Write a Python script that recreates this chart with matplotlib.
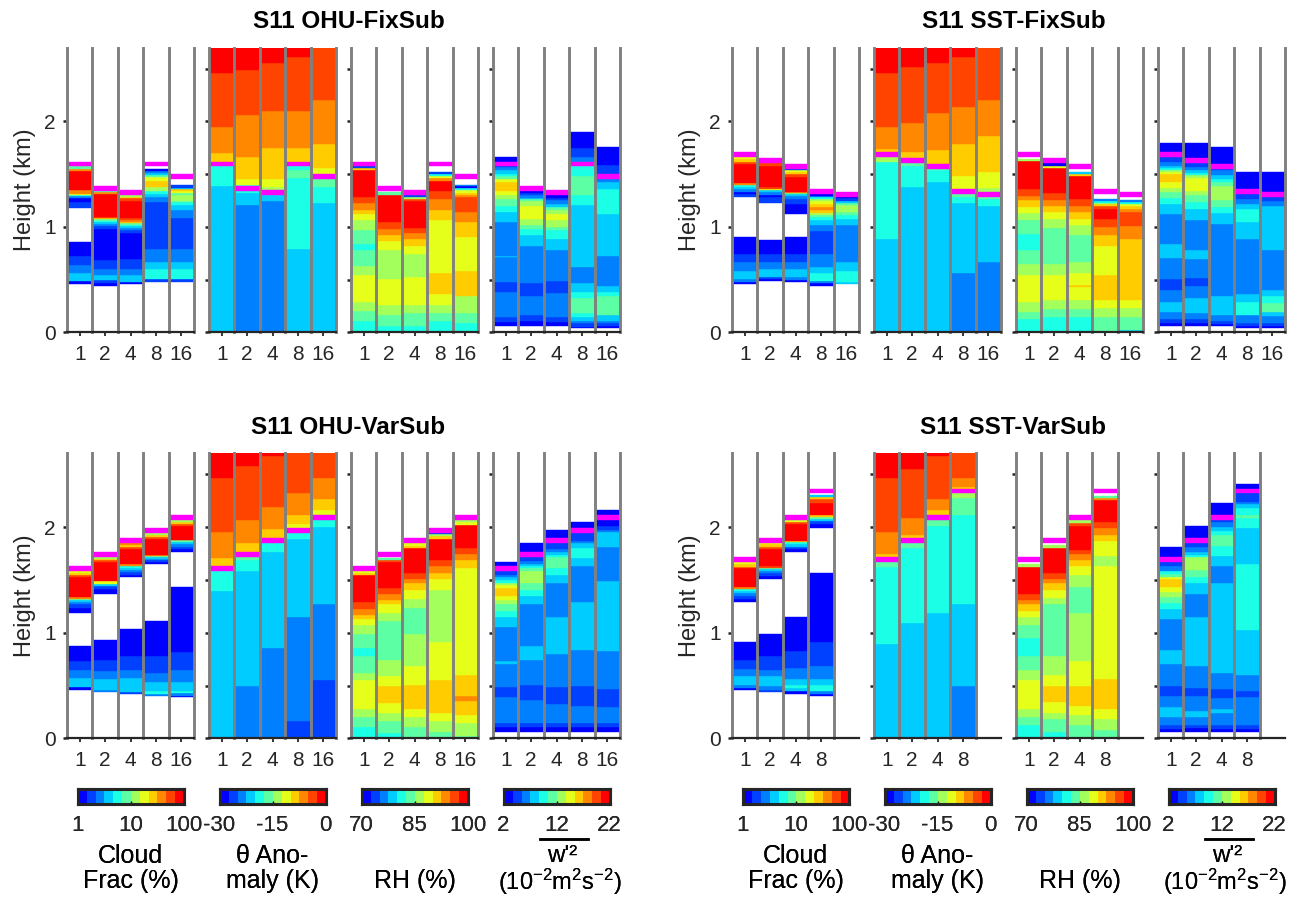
import numpy as np
import matplotlib
matplotlib.use('Agg')
import matplotlib.pyplot as plt
from matplotlib.colors import ListedColormap, BoundaryNorm
from matplotlib.lines import Line2D

plt.rcParams['font.family'] = ['Liberation Sans', 'DejaVu Sans']
plt.rcParams['mathtext.fontset'] = 'custom'
plt.rcParams['mathtext.rm'] = 'Liberation Sans'
plt.rcParams['mathtext.it'] = 'Liberation Sans'
plt.rcParams['mathtext.bf'] = 'Liberation Sans:bold'

# ---------------- data ----------------
categories = ['1', '2', '4', '8', '16']
titles = ['S11 OHU-FixSub', 'S11 SST-FixSub', 'S11 OHU-VarSub', 'S11 SST-VarSub']
cbar_ticklabels = {'cf': ['1', '10', '100'], 'th': ['-30', '-15', '0'],
                   'rh': ['70', '85', '100'], 'w2': ['2', '12', '22']}
jet12 = ['#0000FF', '#0040FF', '#0080FF', '#00CCFF', '#1AFFE6', '#5CFFA3',
         '#A3FF5C', '#E6FF1A', '#FFCC00', '#FF8800', '#FF4400', '#FF0000']

# inversion heights (km), one per column
zi_ohu_fix = [1.62, 1.39, 1.35, 1.62, 1.50]
zi_sst_fix = [1.707, 1.65, 1.593, 1.356, 1.328]
zi_ohu_var = [1.632, 1.765, 1.898, 1.994, 2.117]
zi_sst_var = [1.717, 1.898, 2.117, 2.365]

# each column: list of (segment top height km, value); None = no data (white)
cf_ohu_fix = [
    [(0.46, None), (0.49, 1.2), (0.56, 3.8), (0.64, 2.6), (0.72, 1.8), (0.86, 1.2), (1.18, None), (1.24, 1.8), (1.27, 1.2), (1.29, 2.6), (1.30, 5.6), (1.315, 18), (1.35, 38), (1.53, 83), (1.55, 38), (1.58, 8.3)],
    [(0.44, None), (0.465, 1.2), (0.495, 1.8), (0.54, 3.8), (0.60, 2.6), (0.685, 1.8), (0.98, 1.2), (1.01, 1.8), (1.03, 2.6), (1.045, 3.8), (1.06, 5.6), (1.075, 8.3), (1.085, 26), (1.095, 56), (1.315, 83), (1.33, 38), (1.345, 8.3)],
    [(0.457, None), (0.48, 1.2), (0.54, 3.8), (0.60, 2.6), (0.70, 1.8), (0.945, 1.2), (0.975, 1.8), (0.99, 2.6), (1.005, 3.8), (1.02, 5.6), (1.035, 8.3), (1.05, 26), (1.065, 38), (1.08, 56), (1.25, 83), (1.27, 56), (1.285, 26), (1.30, 12)],
    [(0.48, None), (0.51, 1.8), (0.60, 5.6), (0.67, 3.8), (0.795, 2.6), (1.24, 1.8), (1.28, 2.6), (1.315, 3.8), (1.345, 5.6), (1.38, 12), (1.44, 26), (1.47, 18), (1.49, 8.3), (1.51, 3.8), (1.53, 2.6), (1.55, 1.2), (1.575, None)],
    [(0.48, None), (0.51, 1.8), (0.60, 5.6), (0.67, 3.8), (0.795, 2.6), (1.08, 1.8), (1.16, 2.6), (1.205, 3.8), (1.235, 5.6), (1.25, 8.3), (1.30, 12), (1.32, 8.3), (1.34, 18), (1.36, 26), (1.37, 3.8), (1.40, 1.8), (1.45, None)],
]
th_ohu_fix = [
    [(1.385, -21), (1.62, -19), (1.70, -9), (1.946, -6), (2.457, -4), (2.75, -1)],
    [(1.205, -24), (1.32, -21), (1.394, -19), (1.457, -11), (1.662, -9), (2.057, -6), (2.49, -4), (2.75, -1)],
    [(1.243, -24), (1.30, -21), (1.35, -19), (1.375, -14), (1.457, -11), (1.748, -9), (2.095, -6), (2.558, -4), (2.75, -1)],
    [(0.795, -21), (1.464, -19), (1.536, -16), (1.62, -19), (1.748, -9), (2.095, -6), (2.615, -4), (2.75, -1)],
    [(1.227, -21), (1.379, -19), (1.50, -16), (1.558, -11), (1.782, -9), (2.205, -6), (2.75, -4)],
]
rh_ohu_fix = [
    [(0.107, 81), (0.202, 84), (0.29, 86), (0.543, 89), (0.631, 86), (0.779, 84), (0.842, 81), (0.975, 84), (1.063, 86), (1.12, 89), (1.158, 91), (1.224, 94), (1.281, 96), (1.536, 99), (1.555, 91), (1.575, 74)],
    [(0.06, 81), (0.164, 84), (0.259, 86), (0.505, 89), (0.779, 86), (0.868, 89), (0.924, 91), (0.981, 94), (1.047, 96), (1.306, 99), (1.33, 84), (1.35, None)],
    [(0.06, 81), (0.18, 84), (0.259, 86), (0.524, 89), (0.741, 86), (0.817, 89), (0.883, 91), (0.94, 94), (0.994, 96), (1.243, 99), (1.262, 96), (1.284, 86), (1.30, 74)],
    [(0.107, 81), (0.18, 84), (0.259, 86), (0.363, 89), (0.558, 91), (1.063, 89), (1.158, 91), (1.262, 94), (1.337, 96), (1.44, 99), (1.46, 94), (1.48, 89), (1.50, 81), (1.525, 74), (1.575, None)],
    [(0.09, 81), (0.18, 84), (0.347, 86), (0.584, 91), (0.905, 89), (1.047, 91), (1.139, 94), (1.284, 96), (1.306, 94), (1.325, 91), (1.347, 89), (1.372, 81), (1.39, 71), (1.40, 76), (1.45, None)],
]
w2_ohu_fix = [
    [(0.06, None), (0.10, 2.8), (0.148, 4.5), (0.382, 6.2), (0.479, 4.5), (0.71, 6.2), (0.726, 7.8), (1.047, 6.2), (1.139, 7.8), (1.196, 9.5), (1.262, 11.2), (1.30, 12.8), (1.34, 14.5), (1.426, 16.2), (1.457, 14.5), (1.482, 11.2), (1.505, 9.5), (1.536, 7.8), (1.568, 6.2), (1.62, 4.5), (1.662, 2.8)],
    [(0.06, None), (0.107, 2.8), (0.164, 4.5), (0.347, 6.2), (0.47, 4.5), (0.817, 6.2), (0.921, 7.8), (0.978, 9.5), (1.016, 11.2), (1.079, 12.8), (1.196, 14.5), (1.243, 12.8), (1.262, 11.2), (1.278, 7.8), (1.30, 6.2), (1.322, 4.5), (1.35, 2.8)],
    [(0.06, None), (0.10, 2.8), (0.148, 4.5), (0.369, 6.2), (0.486, 4.5), (0.779, 6.2), (0.883, 7.8), (0.968, 9.5), (1.0, 11.2), (1.063, 12.8), (1.126, 14.5), (1.164, 12.8), (1.19, 11.2), (1.215, 7.8), (1.253, 6.2), (1.27, 4.5), (1.30, 2.8)],
    [(0.038, None), (0.054, 2.8), (0.085, 4.5), (0.11, 6.2), (0.148, 7.8), (0.18, 9.5), (0.328, 11.2), (0.382, 9.5), (0.47, 7.8), (0.621, 6.2), (1.205, 7.8), (1.30, 9.5), (1.479, 11.2), (1.62, 9.5), (1.662, 6.2), (1.748, 4.5), (1.899, 2.8)],
    [(0.038, None), (0.06, 2.8), (0.085, 4.5), (0.11, 6.2), (0.164, 7.8), (0.344, 11.2), (0.382, 9.5), (0.438, 7.8), (0.722, 6.2), (1.12, 7.8), (1.356, 9.5), (1.426, 7.8), (1.50, 6.2), (1.584, 4.5), (1.757, 2.8)],
]

cf_sst_fix = [
    [(0.46, None), (0.48, 1.2), (0.505, 2.6), (0.584, 3.8), (0.669, 2.6), (0.741, 1.8), (0.905, 1.2), (1.284, None), (1.31, 1.8), (1.33, 1.2), (1.36, 2.6), (1.38, 3.8), (1.40, 5.6), (1.416, 38), (1.60, 83), (1.62, 56), (1.64, 26), (1.665, 18)],
    [(0.486, None), (0.505, 1.2), (0.527, 1.8), (0.596, 3.8), (0.669, 2.6), (0.741, 1.8), (0.88, 1.2), (1.227, None), (1.284, 1.8), (1.305, 1.2), (1.33, 2.6), (1.35, 3.8), (1.36, 18), (1.38, 56), (1.575, 83), (1.605, 56)],
    [(0.48, None), (0.50, 1.2), (0.527, 2.6), (0.596, 3.8), (0.669, 2.6), (0.741, 1.8), (0.905, 1.2), (1.12, None), (1.22, 1.2), (1.268, 1.8), (1.29, 2.6), (1.31, 3.8), (1.32, 8.3), (1.33, 38), (1.473, 83), (1.50, 56), (1.52, 26), (1.535, 18), (1.55, 1.8)],
    [(0.442, None), (0.465, 1.2), (0.486, 2.6), (0.565, 5.6), (0.621, 3.8), (0.741, 2.6), (0.962, 1.8), (1.016, 2.6), (1.069, 3.8), (1.09, 5.6), (1.11, 8.3), (1.13, 12), (1.16, 26), (1.19, 38), (1.215, 26), (1.25, 18), (1.26, 12), (1.28, 5.6), (1.295, 2.6), (1.31, 1.2)],
    [(0.46, None), (0.48, 3.8), (0.584, 5.6), (0.669, 3.8), (1.016, 2.6), (1.079, 3.8), (1.11, 5.6), (1.142, 8.3), (1.205, 12), (1.23, 8.3), (1.25, 3.8), (1.27, 1.8), (1.285, 1.2)],
]
th_sst_fix = [
    [(0.883, -21), (1.615, -19), (1.707, -14), (1.735, -9), (1.946, -6), (2.457, -4), (2.75, -1)],
    [(1.375, -21), (1.577, -19), (1.65, -16), (1.71, -9), (1.984, -6), (2.52, -4), (2.75, -1)],
    [(1.426, -21), (1.536, -19), (1.593, -16), (1.726, -9), (2.079, -6), (2.558, -4), (2.75, -1)],
    [(0.565, -24), (1.227, -21), (1.284, -19), (1.356, -16), (1.483, -11), (1.782, -9), (2.142, -6), (2.615, -4), (2.75, -1)],
    [(0.669, -24), (1.199, -21), (1.262, -19), (1.328, -16), (1.366, -14), (1.517, -11), (1.861, -9), (2.205, -6), (2.75, -4)],
]
rh_sst_fix = [
    [(0.126, 81), (0.196, 84), (0.29, 86), (0.543, 89), (0.647, 86), (0.779, 84), (0.937, 81), (1.063, 84), (1.136, 86), (1.19, 89), (1.259, 91), (1.297, 94), (1.356, 96), (1.621, 99), (1.64, 86), (1.66, None)],
    [(0.148, 81), (0.22, 84), (0.306, 86), (0.543, 89), (0.647, 86), (0.994, 84), (1.079, 86), (1.139, 89), (1.196, 91), (1.259, 94), (1.322, 96), (1.558, 99), (1.575, 89), (1.605, 71)],
    [(0.148, 81), (0.22, 84), (0.306, 86), (0.426, 89), (0.448, 91), (0.558, 89), (0.669, 86), (0.921, 84), (1.016, 86), (1.079, 89), (1.139, 91), (1.199, 94), (1.262, 96), (1.483, 99), (1.505, 91), (1.52, 79), (1.546, None)],
    [(0.148, 84), (0.227, 86), (0.306, 89), (0.543, 91), (0.817, 89), (0.921, 91), (1.0, 94), (1.079, 96), (1.174, 99), (1.195, 96), (1.215, 91), (1.23, 86), (1.25, 81), (1.265, 76), (1.31, None)],
    [(0.022, 79), (0.148, 84), (0.227, 86), (0.306, 89), (0.886, 91), (1.006, 94), (1.139, 96), (1.174, 94), (1.195, 91), (1.215, 89), (1.235, 81), (1.255, 76), (1.28, None)],
]
w2_sst_fix = [
    [(0.06, None), (0.091, 2.8), (0.123, 4.5), (0.196, 6.2), (0.284, 7.8), (0.40, 6.2), (0.502, 4.5), (0.707, 6.2), (0.842, 7.8), (1.12, 6.2), (1.221, 7.8), (1.278, 9.5), (1.331, 11.2), (1.369, 12.8), (1.426, 14.5), (1.498, 16.2), (1.517, 14.5), (1.536, 12.8), (1.558, 9.5), (1.577, 7.8), (1.615, 6.2), (1.707, 4.5), (1.80, 2.8)],
    [(0.06, None), (0.085, 2.8), (0.123, 4.5), (0.18, 6.2), (0.322, 7.8), (0.438, 6.2), (0.511, 4.5), (0.70, 6.2), (0.779, 7.8), (1.063, 6.2), (1.174, 7.8), (1.237, 9.5), (1.30, 11.2), (1.34, 12.8), (1.467, 14.5), (1.49, 12.8), (1.51, 9.5), (1.536, 7.8), (1.568, 6.2), (1.65, 4.5), (1.80, 2.8)],
    [(0.06, None), (0.08, 2.8), (0.11, 4.5), (0.164, 6.2), (0.344, 7.8), (1.025, 6.2), (1.136, 7.8), (1.19, 9.5), (1.259, 11.2), (1.391, 12.8), (1.426, 11.2), (1.457, 9.5), (1.489, 7.8), (1.536, 6.2), (1.593, 4.5), (1.754, 2.8)],
    [(0.038, None), (0.06, 2.8), (0.091, 4.5), (0.164, 6.2), (0.29, 9.5), (0.363, 7.8), (0.886, 6.2), (1.047, 7.8), (1.174, 9.5), (1.221, 7.8), (1.268, 6.2), (1.356, 4.5), (1.517, 2.8)],
    [(0.038, None), (0.06, 2.8), (0.085, 4.5), (0.155, 6.2), (0.196, 7.8), (0.281, 11.2), (0.344, 9.5), (0.40, 7.8), (0.779, 6.2), (1.196, 7.8), (1.243, 6.2), (1.328, 4.5), (1.517, 2.8)],
]

cf_ohu_var = [
    [(0.46, None), (0.486, 1.2), (0.568, 3.8), (0.651, 2.6), (0.73, 1.8), (0.87, 1.2), (1.187, None), (1.238, 1.2), (1.27, 1.8), (1.29, 2.6), (1.31, 3.8), (1.32, 8.3), (1.343, 38), (1.53, 83), (1.55, 56), (1.57, 26), (1.587, 18)],
    [(0.438, None), (0.46, 2.6), (0.562, 3.8), (0.641, 2.6), (0.746, 1.8), (0.93, 1.2), (1.365, None), (1.413, 1.2), (1.44, 1.8), (1.46, 3.8), (1.49, 18), (1.667, 83), (1.685, 56), (1.70, 26), (1.72, 12)],
    [(0.422, None), (0.435, 1.8), (0.568, 3.8), (0.651, 2.6), (0.784, 1.8), (1.032, 1.2), (1.53, None), (1.55, 1.2), (1.575, 1.8), (1.59, 2.6), (1.61, 3.8), (1.63, 5.6), (1.65, 38), (1.794, 83), (1.81, 56), (1.83, 26), (1.853, 38)],
    [(0.403, None), (0.42, 2.6), (0.45, 5.6), (0.53, 3.8), (0.619, 2.6), (0.784, 1.8), (1.111, 1.2), (1.65, None), (1.673, 1.2), (1.685, 1.8), (1.70, 2.6), (1.715, 3.8), (1.73, 8.3), (1.74, 38), (1.889, 83), (1.91, 56), (1.925, 26), (1.949, 12)],
    [(0.387, None), (0.40, 1.2), (0.425, 2.6), (0.45, 5.6), (0.53, 3.8), (0.651, 2.6), (0.819, 1.8), (1.429, 1.2), (1.768, None), (1.794, 1.2), (1.813, 1.8), (1.84, 2.6), (1.86, 3.8), (1.875, 8.3), (1.883, 38), (2.016, 83), (2.03, 56), (2.05, 26), (2.072, 12)],
]
th_ohu_var = [
    [(1.394, -21), (1.632, -19), (1.708, -9), (1.952, -6), (2.47, -4), (2.75, -1)],
    [(0.492, -24), (1.584, -21), (1.692, -19), (1.765, -16), (1.851, -9), (2.07, -6), (2.575, -4), (2.75, -1)],
    [(0.851, -24), (1.768, -21), (1.898, -19), (1.984, -9), (2.194, -6), (2.673, -4), (2.75, -1)],
    [(0.165, -26), (1.146, -24), (1.889, -21), (1.994, -19), (2.032, -11), (2.111, -9), (2.327, -6), (2.75, -4)],
    [(0.549, -26), (1.27, -24), (2.0, -21), (2.117, -19), (2.159, -11), (2.27, -9), (2.47, -6), (2.75, -4)],
]
rh_ohu_var = [
    [(0.105, 81), (0.206, 84), (0.279, 86), (0.549, 89), (0.619, 86), (0.784, 84), (0.851, 81), (0.984, 84), (1.07, 86), (1.127, 89), (1.168, 91), (1.222, 94), (1.292, 96), (1.549, 99), (1.57, 91), (1.587, 89)],
    [(0.048, 81), (0.165, 84), (0.244, 86), (0.333, 89), (0.492, 91), (0.587, 89), (0.746, 86), (1.111, 84), (1.19, 86), (1.27, 89), (1.311, 91), (1.365, 94), (1.422, 96), (1.673, 99), (1.69, 96), (1.705, 84), (1.72, None)],
    [(0.105, 84), (0.2, 86), (0.279, 89), (0.508, 91), (0.689, 89), (0.984, 86), (1.232, 84), (1.324, 86), (1.403, 89), (1.47, 91), (1.508, 94), (1.565, 96), (1.803, 99), (1.825, 91), (1.853, 89)],
    [(0.063, 84), (0.165, 86), (0.244, 89), (0.549, 91), (0.911, 89), (1.403, 86), (1.508, 89), (1.565, 91), (1.635, 94), (1.692, 96), (1.889, 99), (1.92, 91), (1.935, 86), (1.949, 74)],
    [(0.022, 84), (0.143, 86), (0.222, 89), (0.349, 91), (0.403, 94), (0.603, 91), (1.613, 89), (1.689, 91), (1.746, 94), (1.803, 96), (2.022, 99), (2.05, 89), (2.072, 86)],
]
w2_ohu_var = [
    [(0.063, None), (0.105, 2.8), (0.149, 4.5), (0.39, 6.2), (0.486, 4.5), (0.708, 6.2), (0.73, 7.8), (1.051, 6.2), (1.149, 7.8), (1.206, 9.5), (1.27, 11.2), (1.311, 12.8), (1.349, 14.5), (1.425, 16.2), (1.45, 14.5), (1.476, 12.8), (1.5, 9.5), (1.524, 7.8), (1.55, 6.2), (1.632, 4.5), (1.673, 2.8)],
    [(0.063, None), (0.105, 2.8), (0.149, 4.5), (0.365, 6.2), (0.508, 4.5), (0.746, 6.2), (0.879, 7.8), (1.27, 6.2), (1.349, 7.8), (1.403, 9.5), (1.476, 11.2), (1.587, 12.8), (1.61, 11.2), (1.635, 9.5), (1.65, 7.8), (1.682, 6.2), (1.765, 4.5), (1.851, 2.8)],
    [(0.063, None), (0.105, 2.8), (0.149, 4.5), (0.327, 6.2), (0.486, 4.5), (0.803, 6.2), (1.146, 7.8), (1.47, 6.2), (1.549, 7.8), (1.61, 9.5), (1.714, 11.2), (1.737, 9.5), (1.762, 7.8), (1.794, 6.2), (1.898, 4.5), (1.975, 2.8)],
    [(0.063, None), (0.105, 2.8), (0.149, 4.5), (0.308, 6.2), (0.492, 4.5), (0.841, 6.2), (1.292, 7.8), (1.635, 6.2), (1.705, 7.8), (1.8, 9.5), (1.848, 7.8), (1.873, 6.2), (1.994, 4.5), (2.048, 2.8)],
    [(0.063, None), (0.105, 2.8), (0.149, 4.5), (0.292, 6.2), (0.47, 4.5), (0.825, 6.2), (1.492, 7.8), (1.816, 6.2), (1.952, 7.8), (1.975, 6.2), (2.016, 4.5), (2.159, 2.8)],
]

cf_sst_var = [
    [(0.46, None), (0.475, 1.2), (0.505, 2.6), (0.587, 3.8), (0.66, 2.6), (0.746, 1.8), (0.911, 1.2), (1.292, None), (1.324, 1.2), (1.35, 1.8), (1.375, 2.6), (1.397, 3.8), (1.413, 5.6), (1.429, 38), (1.61, 83), (1.625, 56), (1.65, 26), (1.672, 18)],
    [(0.438, None), (0.46, 1.8), (0.492, 2.6), (0.587, 3.8), (0.651, 2.6), (0.784, 1.8), (0.984, 1.2), (1.508, None), (1.54, 1.2), (1.565, 1.8), (1.587, 2.6), (1.603, 3.8), (1.615, 8.3), (1.635, 56), (1.794, 83), (1.816, 56), (1.84, 26), (1.853, 18)],
    [(0.422, None), (0.444, 1.2), (0.476, 3.8), (0.508, 5.6), (0.562, 3.8), (0.667, 2.6), (0.825, 1.8), (1.146, 1.2), (1.768, None), (1.794, 1.2), (1.813, 1.8), (1.84, 3.8), (1.857, 5.6), (1.873, 26), (2.032, 83), (2.048, 56), (2.064, 18), (2.072, 8.3)],
    [(0.403, None), (0.422, 1.2), (0.444, 2.6), (0.508, 5.6), (0.562, 3.8), (0.683, 2.6), (0.911, 1.8), (1.565, 1.2), (1.99, None), (2.032, 1.2), (2.054, 1.8), (2.08, 3.8), (2.095, 8.3), (2.111, 26), (2.232, 83), (2.264, 56), (2.283, 26), (2.308, 3.8), (2.32, None)],
]
th_sst_var = [
    [(0.889, -21), (1.622, -19), (1.717, -16), (1.746, -9), (1.952, -6), (2.47, -4), (2.75, -1)],
    [(1.089, -21), (1.803, -19), (1.898, -16), (1.927, -9), (2.089, -6), (2.556, -4), (2.75, -1)],
    [(1.184, -21), (2.016, -19), (2.117, -16), (2.159, -9), (2.27, -6), (2.673, -4), (2.75, -1)],
    [(0.498, -24), (1.27, -21), (2.111, -19), (2.276, -16), (2.365, -14), (2.378, -9), (2.47, -6), (2.75, -4)],
]
rh_sst_var = [
    [(0.127, 81), (0.206, 84), (0.279, 86), (0.549, 89), (0.651, 86), (0.784, 84), (0.946, 81), (1.07, 84), (1.146, 86), (1.206, 89), (1.27, 91), (1.311, 94), (1.365, 96), (1.622, 99), (1.65, 86), (1.672, None)],
    [(0.063, 81), (0.184, 84), (0.244, 86), (0.346, 89), (0.492, 91), (0.603, 89), (0.784, 86), (1.27, 84), (1.327, 86), (1.403, 89), (1.47, 91), (1.508, 94), (1.565, 96), (1.803, 99), (1.832, 86), (1.853, None)],
    [(0.127, 84), (0.222, 86), (0.302, 89), (0.498, 91), (0.73, 89), (1.184, 86), (1.432, 84), (1.546, 86), (1.635, 89), (1.689, 91), (1.746, 94), (1.784, 96), (2.016, 99), (2.04, 96), (2.072, 86)],
    [(0.079, 84), (0.184, 86), (0.279, 89), (0.565, 91), (1.635, 89), (1.73, 86), (1.873, 89), (1.927, 91), (1.994, 94), (2.048, 96), (2.254, 99), (2.276, 94), (2.295, 84), (2.32, None)],
]
w2_sst_var = [
    [(0.063, None), (0.086, 2.8), (0.127, 4.5), (0.206, 6.2), (0.292, 7.8), (0.403, 6.2), (0.498, 4.5), (0.708, 6.2), (0.841, 7.8), (1.127, 6.2), (1.222, 7.8), (1.286, 9.5), (1.343, 11.2), (1.387, 12.8), (1.435, 14.5), (1.508, 16.2), (1.53, 14.5), (1.556, 11.2), (1.587, 9.5), (1.63, 6.2), (1.717, 4.5), (1.813, 2.8)],
    [(0.063, None), (0.095, 2.8), (0.127, 4.5), (0.206, 6.2), (0.26, 7.8), (0.403, 6.2), (0.476, 4.5), (0.689, 6.2), (1.146, 7.8), (1.365, 6.2), (1.47, 7.8), (1.53, 9.5), (1.594, 11.2), (1.714, 12.8), (1.737, 9.5), (1.768, 7.8), (1.81, 6.2), (1.898, 4.5), (2.01, 2.8)],
    [(0.063, None), (0.086, 2.8), (0.127, 4.5), (0.238, 6.2), (0.276, 7.8), (0.38, 6.2), (0.467, 4.5), (0.619, 6.2), (1.47, 7.8), (1.635, 6.2), (1.73, 7.8), (1.819, 9.5), (1.93, 11.2), (1.968, 9.5), (2.0, 7.8), (2.048, 6.2), (2.117, 4.5), (2.229, 2.8)],
    [(0.063, None), (0.086, 2.8), (0.127, 4.5), (0.39, 6.2), (0.451, 4.5), (0.603, 6.2), (1.022, 7.8), (1.651, 9.5), (1.994, 7.8), (2.089, 9.5), (2.12, 11.2), (2.184, 9.5), (2.219, 7.8), (2.238, 6.2), (2.365, 4.5), (2.413, 2.8)],
]

# ---------------- styling ----------------
W, H = 1302, 899
cmap = ListedColormap(jet12)
bounds = {'cf': np.logspace(0, 2, 13), 'th': np.linspace(-30, 0, 13),
          'rh': np.linspace(70, 100, 13), 'w2': np.linspace(2, 22, 13)}
INV_COLOR = '#FF00FF'
INV_THICK = 0.045
SEP_COLOR = '#808080'
DARK = '#262626'

groups = [
    dict(title=titles[0], zi=zi_ohu_fix, data=[cf_ohu_fix, th_ohu_fix, rh_ohu_fix, w2_ohu_fix], x0=67, y0=47.7, y1=332.3),
    dict(title=titles[1], zi=zi_sst_fix, data=[cf_sst_fix, th_sst_fix, rh_sst_fix, w2_sst_fix], x0=732, y0=47.7, y1=332.3),
    dict(title=titles[2], zi=zi_ohu_var, data=[cf_ohu_var, th_ohu_var, rh_ohu_var, w2_ohu_var], x0=67, y0=453.3, y1=738.3),
    dict(title=titles[3], zi=zi_sst_var, data=[cf_sst_var, th_sst_var, rh_sst_var, w2_sst_var], x0=732, y0=453.3, y1=738.3),
]
var_keys = ['cf', 'th', 'rh', 'w2']
PANEL_W = 127
PANEL_STEP = 142

fig = plt.figure(figsize=(W / 100, H / 100), dpi=100)

for g in groups:
    for k, (var, cols) in enumerate(zip(var_keys, g['data'])):
        left = g['x0'] + k * PANEL_STEP
        ax = fig.add_axes([left / W, 1 - g['y1'] / H, PANEL_W / W, (g['y1'] - g['y0']) / H])
        norm = BoundaryNorm(bounds[var], cmap.N)
        ncol = len(cols)
        for i, col in enumerate(cols):
            bottom = 0.0
            for top, val in col:
                if val is not None:
                    c = cmap(norm(val))
                    ax.bar(i + 0.5, top - bottom, bottom=bottom, width=1.0, color=c,
                           edgecolor=c, linewidth=0.3, zorder=2)
                bottom = top
            ax.bar(i + 0.5, INV_THICK, bottom=g['zi'][i] - INV_THICK, width=1.0,
                   color=INV_COLOR, edgecolor=INV_COLOR, linewidth=0.3, zorder=3)
        for xb in range(ncol + 1):
            ax.axvline(xb, color=SEP_COLOR, lw=2.1, zorder=4, clip_on=False)
        ax.set_xlim(0, 5)
        ax.set_ylim(0, 2.7)
        ax.set_xticks(np.arange(ncol) + 0.5)
        ax.set_xticklabels(categories[:ncol])
        for s in ['top', 'right', 'left']:
            ax.spines[s].set_visible(False)
        ax.spines['bottom'].set_linewidth(1.6)
        ax.spines['bottom'].set_color(DARK)
        ax.spines['bottom'].set_zorder(5)
        ax.tick_params(axis='x', direction='out', length=3, width=1.3, color=DARK,
                       labelsize=15, pad=6, labelcolor=DARK)
        if k == 0:
            ax.set_yticks([0, 1, 2])
            ax.set_yticklabels(['0', '1', '2'])
            ax.tick_params(axis='y', direction='out', length=3, width=1.8, color=DARK,
                           labelsize=15, pad=5, labelcolor=DARK)
        else:
            ax.set_yticks([0, 0.5, 1, 1.5, 2, 2.5])
            ax.set_yticklabels([])
            ax.tick_params(axis='y', direction='out', length=3, width=1.8, color=DARK)

        # colorbar below panel (12 discrete jet levels)
        cx = left + PANEL_W / 2
        cax = fig.add_axes([(cx - 53) / W, 1 - 804 / H, 106 / W, 15 / H])
        cax.imshow(np.arange(cmap.N)[None, :], cmap=cmap, aspect='auto',
                   extent=[0, cmap.N, 0, 1], interpolation='nearest')
        cax.set_xlim(0, cmap.N)
        cax.set_ylim(0, 1)
        cax.set_yticks([])
        cax.set_xticks([0, cmap.N / 2, cmap.N])
        cax.set_xticklabels(cbar_ticklabels[var])
        for s in cax.spines.values():
            s.set_linewidth(2.2)
            s.set_edgecolor(DARK)
        cax.tick_params(axis='x', direction='in', length=2, width=1, color='black',
                        labelsize=16, pad=8, labelcolor=DARK)

        # colorbar labels
        fx = cx / W
        if var == 'cf':
            fig.text(fx, 1 - 863 / H, 'Cloud', ha='center', va='baseline', fontsize=18, color='black')
            fig.text(fx, 1 - 888 / H, 'Frac (%)', ha='center', va='baseline', fontsize=18, color='black')
        elif var == 'th':
            fig.text(fx, 1 - 863 / H, 'θ Ano-', ha='center', va='baseline', fontsize=18, color='black')
            fig.text(fx, 1 - 888 / H, 'maly (K)', ha='center', va='baseline', fontsize=18, color='black')
        elif var == 'rh':
            fig.text(fx, 1 - 888 / H, 'RH (%)', ha='center', va='baseline', fontsize=18, color='black')
        else:
            fig.text(fx + 6 / W, 1 - 862 / H, "w'\u00b2", ha='center', va='baseline', fontsize=17.5, color='black')
            fig.add_artist(Line2D([(cx - 17) / W, (cx + 31) / W], [1 - 839 / H, 1 - 839 / H],
                                  color='black', lw=1.8, transform=fig.transFigure))
            fig.text(fx + 3 / W, 1 - 890 / H, r'(10$^{-2}$m$^{2}$s$^{-2}$)', ha='center', va='baseline', fontsize=17, color='black')

    # group title and y label
    gx = g['x0'] + (3 * PANEL_STEP + PANEL_W) / 2 + 5
    fig.text(gx / W, 1 - (g['y0'] - 26) / H, g['title'], ha='center', va='center',
             fontsize=17.5, fontweight='bold', color='black')
    fig.text((g['x0'] - 42) / W, 1 - (g['y0'] + g['y1']) / 2 / H, 'Height (km)', rotation=90,
             ha='center', va='center', fontsize=17, color=DARK)

fig.savefig('out.png', dpi=100, facecolor='white')
